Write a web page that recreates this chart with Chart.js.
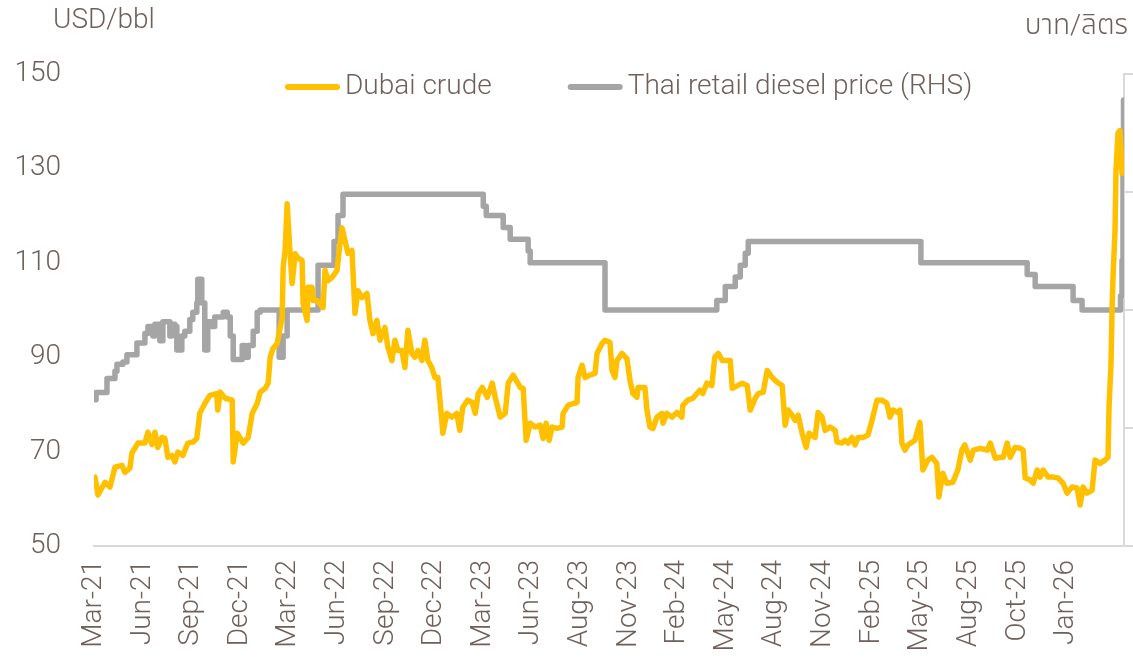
<!DOCTYPE html>
<html>
<head>
<meta charset="utf-8">
<script src="https://cdn.jsdelivr.net/npm/chart.js"></script>
<style>
  html, body { margin: 0; padding: 0; background: #fff; }
</style>
</head>
<body>
<canvas id="chart" width="1133" height="661"></canvas>
<script>
// x tick labels (one every N trading days in the source, so not evenly spaced in months)
const xLabels = ['Mar-21','Jun-21','Sep-21','Dec-21','Mar-22','Jun-22','Sep-22','Dec-22','Mar-23','Jun-23',
  'Aug-23','Nov-23','Feb-24','May-24','Aug-24','Nov-24','Feb-25','May-25','Aug-25','Oct-25','Jan-26'];
// where each label sits on the x axis (same units as the series positions below)
const xTickPos = [0, 0.974, 1.948, 2.922, 3.896, 4.870, 5.844, 6.818, 7.792, 8.766,
  9.740, 10.714, 11.688, 12.662, 13.636, 14.610, 15.584, 16.558, 17.532, 18.506, 19.480];

// positions along the x axis
const dubaiPos = [
  0.02,0.08,0.22,0.32,0.42,0.56,0.62,0.72,0.76,0.88,
  1.02,1.08,1.16,1.22,1.28,1.36,1.42,1.48,1.56,1.62,
  1.68,1.78,1.88,1.98,2.06,2.12,2.22,2.32,2.46,2.48,
  2.53,2.63,2.77,2.79,2.87,2.99,3.09,3.17,3.27,3.33,
  3.43,3.49,3.53,3.59,3.67,3.77,3.79,3.83,3.87,3.93,
  3.97,4.03,4.09,4.17,4.19,4.27,4.29,4.37,4.39,4.47,
  4.59,4.63,4.69,4.77,4.87,4.93,4.97,5.03,5.09,5.17,
  5.23,5.29,5.37,5.47,5.53,5.59,5.67,5.73,5.83,5.89,
  5.97,6.03,6.09,6.17,6.23,6.29,6.37,6.43,6.49,6.57,
  6.63,6.69,6.77,6.83,6.89,6.97,6.99,7.07,7.17,7.27,
  7.33,7.39,7.49,7.58,7.64,7.70,7.78,7.88,7.98,8.04,
  8.14,8.24,8.30,8.40,8.48,8.54,8.60,8.66,8.74,8.84,
  8.94,9.00,9.06,9.12,9.18,9.28,9.38,9.40,9.50,9.60,
  9.68,9.70,9.78,9.84,9.94,10.04,10.08,10.18,10.24,10.34,
  10.38,10.44,10.48,10.58,10.68,10.74,10.80,10.88,10.90,11.04,
  11.08,11.14,11.20,11.28,11.38,11.40,11.48,11.58,11.68,11.78,
  11.80,11.90,12.00,12.14,12.20,12.28,12.38,12.44,12.51,12.59,
  12.75,12.79,12.99,13.09,13.15,13.25,13.31,13.41,13.49,13.59,
  13.69,13.79,13.85,13.91,13.99,14.05,14.11,14.19,14.27,14.33,
  14.45,14.51,14.59,14.65,14.75,14.85,14.89,14.99,15.05,15.11,
  15.19,15.25,15.31,15.41,15.51,15.59,15.69,15.79,15.89,15.95,
  16.01,16.11,16.15,16.19,16.25,16.31,16.45,16.55,16.61,16.71,
  16.79,16.89,16.93,17.01,17.09,17.21,17.31,17.39,17.45,17.56,
  17.62,17.76,17.90,17.96,18.06,18.16,18.22,18.30,18.36,18.46,
  18.56,18.62,18.66,18.76,18.82,18.90,18.96,19.02,19.12,19.22,
  19.32,19.42,19.50,19.60,19.70,19.76,19.82,19.90,20.00,20.06,
  20.16,20.26,20.32,20.34,20.38,20.40,20.42,20.46,20.48,20.52,
  20.56,20.60
];
// Dubai crude, USD/bbl
const dubaiVal = [
  64.6,60.8,63.5,62.5,66.7,67.1,65.6,66.5,69.7,71.8,
  71.8,74.1,71.5,74.1,70.9,73.0,72.8,68.8,69.2,67.8,
  69.9,69.2,71.8,72.0,72.8,78.1,80.2,81.9,82.3,78.8,
  82.6,81.3,80.9,67.8,73.9,71.8,73.0,78.1,80.2,82.6,
  83.4,84.5,90.0,91.9,92.9,98.4,109.0,112.6,122.5,112.0,
  105.6,111.9,111.0,110.5,101.4,97.8,104.8,104.8,102.0,102.0,
  100.5,108.4,106.2,106.9,108.4,114.1,117.4,114.7,112.0,112.6,
  99.3,104.1,102.6,103.5,97.8,95.0,97.8,93.6,96.3,92.1,
  89.3,93.6,91.4,91.4,87.8,95.7,90.8,90.0,91.4,89.3,
  93.6,89.3,87.8,85.7,85.7,76.6,73.9,78.1,77.3,78.1,
  74.5,79.4,80.9,80.4,78.1,82.3,83.6,81.5,84.5,81.5,
  77.3,78.1,84.5,86.2,84.7,83.6,83.4,72.4,76.0,75.2,
  75.6,72.8,76.0,72.4,75.2,74.9,75.2,78.1,79.8,80.2,
  80.4,85.7,88.3,85.7,86.2,86.6,90.8,92.9,93.6,93.1,
  87.2,85.7,89.3,90.8,89.7,85.1,82.3,81.5,83.6,83.6,
  78.8,75.2,74.9,77.3,78.1,76.0,78.1,77.3,78.3,77.3,
  79.8,80.9,81.3,83.0,82.3,84.5,84.0,90.0,90.8,89.3,
  89.3,83.4,84.5,84.0,78.8,81.3,82.3,82.6,87.2,85.7,
  84.7,84.0,75.6,78.8,77.7,76.6,77.7,73.9,70.9,73.9,
  73.0,78.3,77.3,74.5,75.2,74.5,72.0,71.8,72.4,71.8,
  73.0,71.4,73.0,73.0,73.5,76.6,80.9,80.9,80.2,77.3,
  78.8,78.3,78.8,71.8,70.3,71.4,72.4,76.2,66.1,68.2,
  68.8,67.5,60.4,65.4,63.3,63.5,66.1,70.3,71.4,68.2,
  70.3,70.7,70.3,71.8,68.6,68.8,68.8,71.8,68.8,70.9,
  70.7,70.3,64.4,64.0,63.3,66.1,64.6,66.1,64.6,64.6,
  64.4,63.3,61.2,62.5,62.3,58.7,62.5,61.2,61.8,68.2,
  67.5,68.2,68.8,79.4,88.7,99.9,106.9,116.8,129.5,137.5,
  138.0,129.0
];

// Thai retail diesel price, THB/litre (RHS), value holds until the next change
const dieselPos = [
  0,0.04,0.26,0.42,0.46,0.58,0.66,0.86,1.02,1.08,
  1.18,1.22,1.32,1.38,1.52,1.56,1.62,1.66,1.76,1.82,
  1.92,1.98,2.06,2.08,2.16,2.22,2.28,2.36,2.42,2.59,
  2.67,2.73,2.79,2.97,3.03,3.09,3.19,3.27,3.33,3.71,
  3.79,3.87,4.49,4.81,4.89,4.99,7.80,7.86,8.20,8.34,
  8.70,8.74,10.24,12.48,12.65,12.85,12.95,13.05,13.11,16.57,
  18.70,18.86,19.62,19.80,20.57,20.60,20.62,20.63
];
const dieselVal = [
  26.2,26.5,27.1,27.4,27.7,27.8,28.1,28.6,29.0,29.3,
  28.9,29.4,28.7,29.5,28.9,29.4,29.3,28.3,28.9,29.1,
  29.6,29.9,30.3,31.3,30.3,28.3,29.5,29.3,29.7,29.9,
  29.7,28.9,27.9,28.5,28.0,28.5,29.1,29.9,30.0,28.0,
  28.9,30.0,31.9,32.9,34.0,34.9,34.4,34.0,33.5,33.0,
  32.5,32.0,30.0,30.4,31.0,31.4,31.9,32.4,32.9,32.0,
  31.5,31.0,30.4,30.0,30.6,32.1,36.4,38.9
];

const TEXT = '#6e605b';
const FONT = 'Roboto, "Noto Sans", sans-serif';
const AXIS_LINE = '#d9d9d9';

Chart.defaults.font.family = FONT;
Chart.defaults.font.size = 28;
Chart.defaults.font.weight = 300;
Chart.defaults.color = TEXT;

//legende dans la zone du graph + unites en haut
const insideLegend = {
  id: 'insideLegend',
  afterDraw(chart) {
    const { ctx, chartArea } = chart;
    ctx.save();
    ctx.font = '300 28px ' + FONT;
    ctx.textBaseline = 'middle';
    ctx.fillStyle = TEXT;
    let x = chartArea.left + 191;
    const y = chartArea.top + 13;
    chart.data.datasets.forEach(ds => {
      ctx.strokeStyle = ds.borderColor;
      ctx.lineWidth = 6;
      ctx.lineCap = 'round';
      ctx.beginPath();
      ctx.moveTo(x + 3, y);
      ctx.lineTo(x + 52, y);
      ctx.stroke();
      ctx.fillText(ds.label, x + 60, y);
      x += 60 + ctx.measureText(ds.label).width + 76;
    });
    // unit titles
    ctx.textAlign = 'left';
    ctx.fillText('USD/bbl', 53, 21);
    ctx.textAlign = 'right';
    ctx.font = '300 28px ' + FONT + ', "Noto Sans Thai", "Loma", "Garuda"';
    ctx.fillText('บาท/ลิตร', chart.width - 5, 27);
    ctx.restore();
  }
};

const ctx = document.getElementById('chart').getContext('2d');
const chart = new Chart(ctx, {
  type: 'line',
  data: {
    datasets: [
      {
        label: 'Dubai crude',
        data: dubaiPos.map((p, i) => ({ x: p, y: dubaiVal[i] })),
        borderColor: '#ffc000',
        borderWidth: 5.5,
        yAxisID: 'y'
      },
      {
        label: 'Thai retail diesel price (RHS)',
        data: dieselPos.map((p, i) => ({ x: p, y: dieselVal[i] })),
        borderColor: '#a5a5a5',
        borderWidth: 5.5,
        stepped: true,
        yAxisID: 'y2'
      }
    ]
  },
  options: {
    responsive: false,
    animation: false,
    layout: { padding: { top: 74, left: 0, right: 0, bottom: 0 } },
    elements: {
      point: { radius: 0 },
      line: { tension: 0, borderJoinStyle: 'round', borderCapStyle: 'round' }
    },
    plugins: {
      legend: { display: false },
      tooltip: { enabled: false }
    },
    scales: {
      x: {
        type: 'linear',
        min: 0,
        max: 20.64,
        afterBuildTicks: s => { s.ticks = xTickPos.map(v => ({ value: v })); },
        afterFit: s => { s.height = 115; },
        ticks: {
          autoSkip: false,
          minRotation: 90,
          maxRotation: 90,
          padding: 14,
          callback: (v, i) => xLabels[i]
        },
        grid: { display: false, drawTicks: false },
        border: { display: true, color: AXIS_LINE, width: 2 }
      },
      y: {
        position: 'left',
        min: 50,
        max: 150,
        afterFit: s => { s.width = 94; },
        ticks: { stepSize: 20, padding: 33 },
        grid: { display: false, drawTicks: false },
        border: { display: false }
      },
      y2: {
        position: 'right',
        min: 20,
        max: 40,
        afterFit: s => { s.width = 9; },
        ticks: { stepSize: 5, display: false },
        grid: {
          drawOnChartArea: false,
          drawTicks: true,
          tickLength: 9,
          color: AXIS_LINE,
          lineWidth: 2
        },
        border: { display: true, color: AXIS_LINE, width: 2 }
      }
    }
  },
  plugins: [insideLegend]
});
</script>
</body>
</html>
